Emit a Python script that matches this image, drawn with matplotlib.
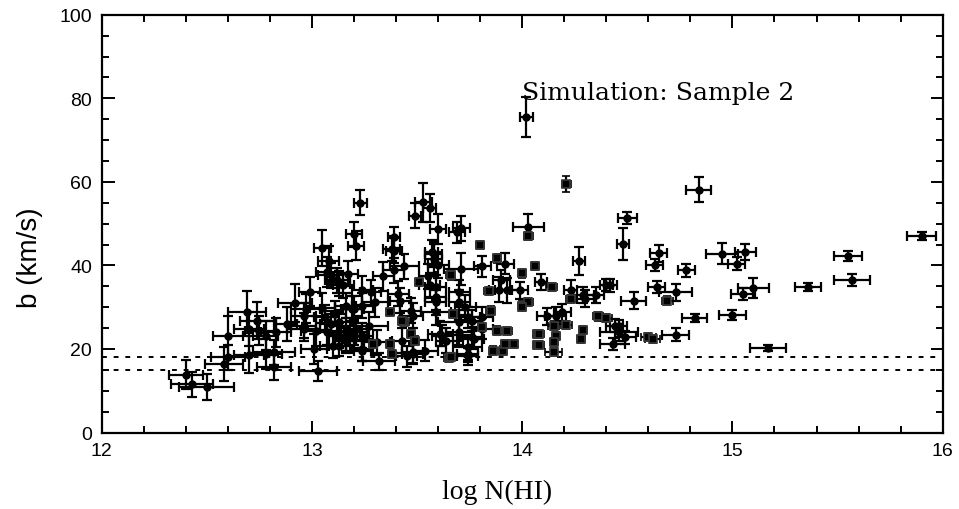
import matplotlib
matplotlib.use("Agg")
import matplotlib.pyplot as plt
from matplotlib.ticker import MultipleLocator

# Circle-marked absorbers: log N(HI), b, errors
logN_c = [12.40, 12.43, 12.50, 12.60, 12.58, 12.60, 12.69, 12.74, 12.70, 12.75,
          12.78, 12.70, 12.78, 12.82, 12.82, 12.83, 12.88, 12.92, 13.05, 13.21,
          13.20, 13.08, 13.07, 13.09, 13.12, 13.15, 13.17, 12.99, 12.97, 12.96,
          13.05, 13.06, 12.96, 13.02, 13.01, 13.03, 13.09, 13.13, 13.16, 13.19,
          13.10, 13.13, 13.20, 13.16, 13.23, 13.53, 13.49, 13.56, 13.60, 13.69,
          13.71, 14.03, 13.39, 13.38, 13.92, 13.71, 13.81, 13.57, 13.58, 13.60,
          13.44, 13.34, 13.39, 13.24, 13.28, 13.30, 13.41, 13.42, 13.55, 13.56,
          13.59, 13.90, 13.89, 13.93, 13.20, 13.47, 13.48, 13.59, 13.70, 13.74,
          13.76, 13.81, 13.81, 13.61, 13.64, 13.70, 13.74, 13.76, 13.74, 13.43,
          13.45, 13.48, 13.54, 13.32, 13.24, 13.31, 13.20, 13.16, 13.24, 13.27,
          14.02, 14.84, 14.50, 14.48, 14.27, 14.65, 14.63, 14.78, 14.95, 15.02,
          14.09, 14.23, 14.29, 14.30, 14.35, 14.40, 14.42, 14.64, 14.73, 14.53,
          13.99, 14.12, 14.16, 14.19, 14.44, 14.46, 14.46, 14.49, 14.43, 14.73,
          15.90, 15.55, 15.57, 15.36, 15.17, 15.10, 15.05, 15.00, 15.06, 14.82,
          13.39, 13.11, 13.24, 12.96, 13.07, 13.13, 13.16, 13.21, 13.24, 13.58,
          13.59, 13.70, 13.59, 13.70, 13.73, 13.62, 13.77, 13.48, 13.74, 13.13]
b_c = [13.8, 11.5, 10.9, 23.1, 16.4, 18.0, 28.9, 26.8, 24.8, 24.4,
       23.2, 18.6, 18.8, 15.6, 19.2, 24.0, 26.0, 31.0, 44.2, 44.7,
       47.5, 41.1, 38.4, 37.6, 36.4, 35.2, 38.0, 33.7, 29.6, 28.0,
       29.8, 27.6, 24.8, 24.3, 20.0, 14.8, 26.0, 26.4, 30.4, 29.6,
       20.8, 20.8, 23.2, 24.4, 55.0, 55.1, 51.9, 53.8, 48.7, 47.9,
       48.9, 49.3, 46.7, 44.0, 40.4, 39.2, 39.8, 43.2, 41.6, 40.1,
       39.8, 37.4, 38.8, 34.0, 33.6, 31.2, 33.2, 31.6, 37.4, 35.2,
       32.4, 36.5, 34.2, 34.0, 29.6, 29.2, 28.0, 28.8, 26.4, 27.6,
       26.8, 27.6, 24.8, 23.6, 22.0, 24.0, 20.4, 22.8, 18.2, 22.0,
       18.3, 18.8, 19.6, 17.0, 20.0, 21.6, 24.0, 22.4, 23.2, 25.6,
       75.6, 58.1, 51.3, 45.1, 41.1, 42.9, 40.1, 38.8, 42.8, 40.4,
       36.0, 34.0, 32.9, 32.0, 32.9, 35.3, 35.2, 34.8, 33.6, 31.6,
       34.0, 27.8, 28.0, 28.8, 25.6, 25.5, 24.0, 22.8, 21.2, 23.4,
       47.0, 42.2, 36.5, 34.8, 20.2, 34.6, 33.2, 28.2, 43.2, 27.4,
       43.5, 28.4, 30.4, 25.6, 24.0, 23.2, 22.0, 24.8, 19.6, 42.7,
       34.8, 33.6, 31.2, 31.2, 30.0, 23.2, 22.4, 19.2, 18.8, 35.6]
logN_err_c = [0.08, 0.10, 0.13, 0.07, 0.09, 0.08, 0.09, 0.08, 0.07, 0.07,
              0.06, 0.07, 0.08, 0.08, 0.10, 0.07, 0.05, 0.08, 0.04, 0.04,
              0.04, 0.05, 0.05, 0.06, 0.06, 0.05, 0.05, 0.05, 0.07, 0.06,
              0.06, 0.05, 0.08, 0.07, 0.06, 0.09, 0.05, 0.06, 0.05, 0.05,
              0.06, 0.05, 0.06, 0.07, 0.03, 0.04, 0.03, 0.03, 0.04, 0.04,
              0.04, 0.075, 0.03, 0.04, 0.04, 0.08, 0.04, 0.03, 0.04, 0.05,
              0.07, 0.05, 0.05, 0.05, 0.05, 0.06, 0.05, 0.05, 0.04, 0.05,
              0.05, 0.04, 0.05, 0.06, 0.05, 0.05, 0.05, 0.07, 0.10, 0.06,
              0.05, 0.05, 0.05, 0.06, 0.05, 0.06, 0.07, 0.05, 0.05, 0.05,
              0.05, 0.05, 0.06, 0.075, 0.05, 0.06, 0.06, 0.05, 0.05, 0.09,
              0.03, 0.06, 0.045, 0.03, 0.03, 0.04, 0.04, 0.04, 0.075, 0.04,
              0.03, 0.03, 0.05, 0.04, 0.04, 0.03, 0.03, 0.04, 0.08, 0.06,
              0.04, 0.05, 0.05, 0.04, 0.04, 0.04, 0.09, 0.05, 0.06, 0.064,
              0.068, 0.068, 0.086, 0.063, 0.086, 0.075, 0.055, 0.064, 0.05, 0.06,
              0.04, 0.05, 0.05, 0.06, 0.05, 0.05, 0.05, 0.05, 0.04, 0.04,
              0.05, 0.05, 0.05, 0.05, 0.05, 0.05, 0.05, 0.05, 0.05, 0.05]
b_err_c = [3.5, 3.0, 3.0, 4.8, 4.0, 3.0, 5.0, 4.5, 4.0, 3.5,
           3.5, 4.4, 3.5, 3.0, 3.0, 3.5, 4.0, 4.5, 4.4, 3.5,
           3.0, 3.5, 3.5, 3.0, 3.0, 3.0, 3.0, 3.5, 3.5, 3.0,
           3.5, 3.0, 3.0, 3.5, 3.5, 2.4, 3.0, 3.0, 3.0, 3.0,
           3.0, 2.5, 3.0, 3.0, 3.0, 4.6, 3.0, 3.4, 3.6, 2.5,
           3.0, 3.0, 2.5, 3.0, 2.5, 3.8, 2.5, 3.0, 3.5, 3.0,
           3.0, 3.5, 3.0, 3.5, 3.0, 3.5, 3.0, 3.0, 3.0, 3.0,
           3.0, 2.5, 3.0, 3.0, 3.0, 3.0, 3.0, 3.0, 3.0, 2.5,
           2.5, 2.5, 2.5, 3.0, 3.0, 3.0, 3.0, 2.5, 2.0, 3.0,
           2.5, 2.5, 2.5, 2.0, 3.0, 3.0, 3.0, 3.0, 3.0, 3.2,
           4.8, 3.0, 1.5, 3.8, 3.4, 2.0, 1.5, 1.5, 2.5, 1.5,
           2.0, 2.5, 2.0, 2.0, 2.0, 1.5, 1.5, 1.5, 2.0, 2.0,
           2.0, 2.0, 2.0, 2.0, 1.5, 1.5, 2.0, 1.5, 1.5, 1.5,
           1.0, 1.2, 1.5, 1.0, 0.8, 2.5, 1.5, 1.2, 2.0, 1.0,
           3.0, 3.0, 3.0, 3.0, 3.0, 3.0, 3.0, 3.0, 2.5, 3.0,
           3.0, 3.0, 3.0, 3.0, 3.0, 2.5, 2.5, 2.5, 2.0, 3.0]

# Square-marked absorbers (small errors)
logN_s = [14.03, 13.80, 13.88, 14.06, 14.00, 13.51, 13.66, 13.84, 14.00, 14.03,
          13.37, 13.44, 13.67, 13.85, 13.88, 13.93, 14.07, 14.07, 13.86, 13.91,
          13.92, 13.96, 13.65, 13.47, 13.49, 13.37, 13.38, 13.29, 14.21, 14.14,
          14.23, 14.69, 14.00, 14.15, 14.21, 14.08, 14.08, 14.16, 14.15, 14.15,
          14.29, 14.28, 14.36, 14.40, 14.60, 14.62, 13.43, 13.66, 13.81]
b_s = [47.1, 44.9, 41.7, 39.8, 38.1, 36.0, 37.6, 33.9, 30.4, 31.2,
       28.8, 26.4, 28.4, 29.2, 24.4, 24.3, 23.6, 21.0, 19.6, 19.6,
       21.2, 21.2, 17.8, 23.6, 22.0, 21.2, 18.8, 21.2, 59.5, 34.9,
       32.0, 31.6, 30.0, 25.6, 25.8, 23.6, 21.0, 23.1, 21.6, 19.2,
       24.6, 22.4, 27.8, 27.4, 22.8, 22.4, 26.8, 18.0, 25.2]
logN_err_s = [0.02] * 28 + [0.02, 0.025, 0.02, 0.025, 0.02, 0.025, 0.025, 0.025, 0.025,
                            0.02, 0.02, 0.04, 0.02, 0.02, 0.025, 0.025, 0.035, 0.035,
                            0.02, 0.02, 0.02]
b_err_s = [1.0] * 28 + [2.0, 1.0, 1.0, 1.0, 1.0, 1.0, 1.0, 1.0, 1.0,
                        1.0, 1.0, 1.0, 1.0, 1.0, 1.0, 1.0, 1.0, 1.0,
                        1.0, 1.0, 1.0]

b_limits = [15, 18]

fig = plt.figure(figsize=(9.59, 5.10), dpi=100)
ax = fig.add_axes([0.106, 0.150, 0.877, 0.819])

ax.errorbar(logN_c, b_c, xerr=logN_err_c, yerr=b_err_c, fmt='o', color='black',
            ms=5, elinewidth=1.6, capsize=3.5, capthick=1.6)
ax.errorbar(logN_s, b_s, xerr=logN_err_s, yerr=b_err_s, fmt='s', mfc='black',
            mec='#3a3a3a', ecolor='black', ms=5.5, mew=1.2, elinewidth=1.6,
            capsize=3, capthick=1.6)

for lim in b_limits:
    ax.axhline(lim, color='black', lw=1.4, ls=(0, (2.5, 3.5)))

ax.set_xlim(12, 16)
ax.set_ylim(0, 100)
ax.xaxis.set_major_locator(MultipleLocator(1))
ax.xaxis.set_minor_locator(MultipleLocator(0.2))
ax.yaxis.set_major_locator(MultipleLocator(20))
ax.yaxis.set_minor_locator(MultipleLocator(5))
ax.tick_params(which='both', direction='in', top=True, right=True, width=1.4,
               labelsize=14)
ax.tick_params(which='major', length=9, pad=7)
ax.tick_params(which='minor', length=5)
for s in ax.spines.values():
    s.set_linewidth(1.6)
for lab in ax.get_xticklabels() + ax.get_yticklabels():
    lab.set_family('Liberation Sans')

ax.set_xlabel('log N(HI)', family='Liberation Serif', fontsize=20)
ax.xaxis.set_label_coords(0.47, -0.11)
ax.set_ylabel('b (km/s)', family='Liberation Sans', fontsize=20)
ax.yaxis.set_label_coords(-0.07, 0.42)
ax.text(14.0, 81.5, 'Simulation: Sample 2', family='DejaVu Serif', fontsize=18,
        va='center', ha='left')

fig.savefig('out.png', dpi=100)
